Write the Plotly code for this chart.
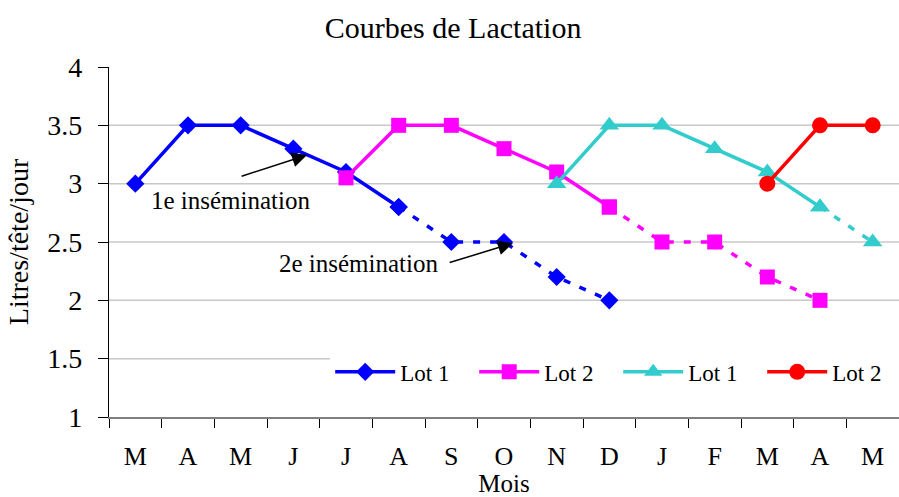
import plotly.graph_objects as go

# Months of the lactation period (March to May of the following year)
months = ["M", "A", "M", "J", "J", "A", "S", "O", "N", "D", "J", "F", "M", "A", "M"]

# Milk yield (litres/head/day); each series starts at a given month index.
# The first `solid` points are observed, the rest are the projected decline.
lot1_a = [3.0, 3.5, 3.5, 3.3, 3.1, 2.8, 2.5, 2.5, 2.2, 2.0]
lot1_a_start, lot1_a_solid = 0, 6

lot2_a = [3.05, 3.5, 3.5, 3.3, 3.1, 2.8, 2.5, 2.5, 2.2, 2.0]
lot2_a_start, lot2_a_solid = 4, 6

lot1_b = [3.0, 3.5, 3.5, 3.3, 3.1, 2.8, 2.5]
lot1_b_start, lot1_b_solid = 8, 6

lot2_b = [3.0, 3.5, 3.5]
lot2_b_start, lot2_b_solid = 12, 3

y_ticks = [1, 1.5, 2, 2.5, 3, 3.5, 4]

FONT = "Liberation Serif, Times New Roman, serif"

series = [
    ("Lot 1", lot1_a, lot1_a_start, lot1_a_solid, "#0000FF", "diamond", 14),
    ("Lot 2", lot2_a, lot2_a_start, lot2_a_solid, "#FF00FF", "square", 15),
    ("Lot 1", lot1_b, lot1_b_start, lot1_b_solid, "#33CCCC", "triangle-up", 17),
    ("Lot 2", lot2_b, lot2_b_start, lot2_b_solid, "#FF0000", "circle", 16),
]

fig = go.Figure()
for name, vals, start, solid, color, symbol, size in series:
    xs = list(range(start, start + len(vals)))
    # projected part (dashed), drawn first so the solid part sits on top
    if solid < len(vals):
        fig.add_trace(go.Scatter(
            x=xs[solid - 1:], y=vals[solid - 1:], mode="lines+markers",
            line=dict(color=color, width=3.5, dash="7px,10px"),
            marker=dict(symbol=symbol, size=size, color=color),
            showlegend=False, hoverinfo="skip",
        ))
    fig.add_trace(go.Scatter(
        x=xs[:solid], y=vals[:solid], mode="lines+markers", name=name,
        line=dict(color=color, width=3.5),
        marker=dict(symbol=symbol, size=size, color=color),
    ))

# horizontal gridlines (none along the top edge)
for v in y_ticks[1:-1]:
    fig.add_shape(type="line", xref="paper", x0=0, x1=1, yref="y", y0=v, y1=v,
                  line=dict(color="#C8C8C8", width=1.5), layer="below")

# insemination markers
fig.add_annotation(x=3.26, y=3.245, ax=1.99, ay=3.06, axref="x", ayref="y",
                   xref="x", yref="y", text="", showarrow=True,
                   arrowhead=2, arrowsize=2, arrowwidth=1.5, arrowcolor="black")
fig.add_annotation(x=1.80, y=2.86, xref="x", yref="y", text="1e insémination",
                   showarrow=False, font=dict(family=FONT, size=25, color="black"))
fig.add_annotation(x=7.17, y=2.49, ax=5.94, ay=2.32, axref="x", ayref="y",
                   xref="x", yref="y", text="", showarrow=True,
                   arrowhead=2, arrowsize=2, arrowwidth=1.5, arrowcolor="black")
fig.add_annotation(x=4.23, y=2.32, xref="x", yref="y", text="2e insémination",
                   showarrow=False, font=dict(family=FONT, size=25, color="black"))

fig.update_layout(
    width=899, height=497,
    margin=dict(l=109, r=0, t=67, b=80, autoexpand=False),
    paper_bgcolor="white", plot_bgcolor="white",
    font=dict(family=FONT, size=24, color="black"),
    title=dict(text="Courbes de Lactation", x=0.504, xanchor="center",
               y=0.945, yanchor="middle", font=dict(family=FONT, size=30, color="black")),
    showlegend=True,
    legend=dict(orientation="h", x=0.28, y=0.129, xanchor="left", yanchor="middle",
                bgcolor="white", borderwidth=0, font=dict(family=FONT, size=23),
                entrywidth=69, entrywidthmode="pixels", itemwidth=60, tracegroupgap=0),
    xaxis=dict(
        range=[-0.5, 14.5], tickmode="array", tickvals=list(range(len(months))),
        ticktext=months, ticks="outside", ticklen=10, tickcolor="rgba(0,0,0,0)",
        ticklabelstandoff=5,
        showline=True, linecolor="#808080", linewidth=1.5, showgrid=False, zeroline=False,
        minor=dict(tickmode="array", tickvals=[i - 0.5 for i in range(len(months) + 1)],
                   ticks="outside", ticklen=9, tickcolor="black", tickwidth=1, showgrid=False),
        title=dict(text="Mois", standoff=10, font=dict(family=FONT, size=25)),
        tickfont=dict(family=FONT, size=26),
    ),
    yaxis=dict(
        range=[1, 4], tickmode="array", tickvals=y_ticks,
        ticktext=[f"{v:g}" for v in y_ticks],
        ticks="outside", ticklen=10, tickcolor="black", ticklabelstandoff=10,
        showline=True, linecolor="black", linewidth=1.2, showgrid=False, zeroline=False,
        title=dict(text="Litres/tête/jour", standoff=10, font=dict(family=FONT, size=28)),
        tickfont=dict(family=FONT, size=28),
    ),
)

fig.write_html("out.html")
